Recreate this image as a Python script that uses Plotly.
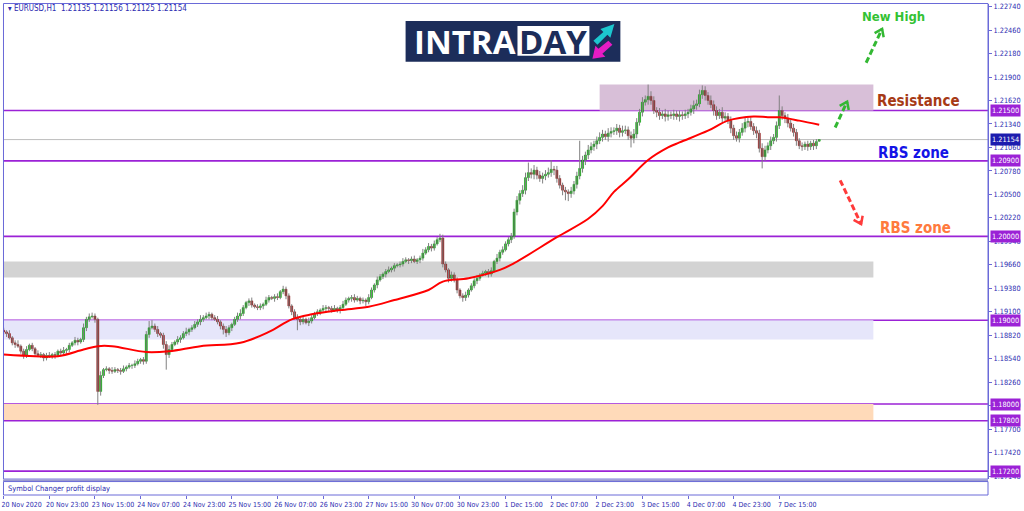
import math
import plotly.graph_objects as go

# ---------------- data ----------------
symbol = "EURUSD,H1"
first_open = 1.1888
# H1 closes, bars 0..285 (bar 286 is the live bar in last_ohlc)
closes = [
    1.1886, 1.1884, 1.1879, 1.1873, 1.1871, 1.1869, 1.1863, 1.1858, 1.1865, 1.1870,
    1.1866, 1.1860, 1.1858, 1.1859, 1.1855, 1.1858, 1.1857, 1.1859, 1.1858, 1.1863,
    1.1861, 1.1864, 1.1865, 1.1870, 1.1873, 1.1876, 1.1874, 1.1877, 1.1891, 1.1901,
    1.1904, 1.1905, 1.1901, 1.1815, 1.1834, 1.1841, 1.1842, 1.1840, 1.1839, 1.1841,
    1.1840, 1.1839, 1.1842, 1.1844, 1.1846, 1.1846, 1.1848, 1.1851, 1.1853, 1.1851,
    1.1883, 1.1891, 1.1893, 1.1889, 1.1884, 1.1882, 1.1871, 1.1859, 1.1865, 1.1871,
    1.1874, 1.1877, 1.1879, 1.1884, 1.1886, 1.1889, 1.1891, 1.1895, 1.1898, 1.1901,
    1.1903, 1.1905, 1.1907, 1.1903, 1.1901, 1.1898, 1.1893, 1.1889, 1.1885, 1.1891,
    1.1895, 1.1901, 1.1905, 1.1908, 1.1915, 1.1921, 1.1923, 1.1918, 1.1916, 1.1915,
    1.1917, 1.1919, 1.1924, 1.1927, 1.1926, 1.1928, 1.1927, 1.1934, 1.1937, 1.1929,
    1.1917, 1.1910, 1.1903, 1.1901, 1.1898, 1.1901, 1.1897, 1.1899, 1.1903, 1.1908,
    1.1910, 1.1912, 1.1914, 1.1915, 1.1914, 1.1912, 1.1914, 1.1912, 1.1915, 1.1919,
    1.1924, 1.1926, 1.1927, 1.1924, 1.1926, 1.1923, 1.1924, 1.1922, 1.1927, 1.1936,
    1.1942, 1.1948, 1.1952, 1.1955, 1.1958, 1.1960, 1.1962, 1.1965, 1.1966, 1.1967,
    1.1970, 1.1972, 1.1971, 1.1973, 1.1970, 1.1972, 1.1974, 1.1980, 1.1984, 1.1988,
    1.1986, 1.1991, 1.1996, 1.1998, 1.1967, 1.1960, 1.1950, 1.1954, 1.1948, 1.1936,
    1.1929, 1.1927, 1.1930, 1.1936, 1.1941, 1.1947, 1.1950, 1.1954, 1.1956, 1.1958,
    1.1955, 1.1959, 1.1970, 1.1974, 1.1981, 1.1984, 1.1991, 1.1996, 1.2000, 1.2029,
    1.2043, 1.2051, 1.2055, 1.2070, 1.2076, 1.2074, 1.2079, 1.2073, 1.2069, 1.2072,
    1.2074, 1.2076, 1.2080, 1.2079, 1.2069, 1.2061, 1.2055, 1.2053, 1.2051, 1.2054,
    1.2062, 1.2072, 1.2081, 1.2091, 1.2097, 1.2103, 1.2107, 1.2110, 1.2114, 1.2118,
    1.2122, 1.2119, 1.2123, 1.2125, 1.2126, 1.2129, 1.2124, 1.2126, 1.2127, 1.2120,
    1.2117, 1.2122, 1.2136, 1.2148, 1.2160, 1.2163, 1.2167, 1.2162, 1.2150, 1.2148,
    1.2144, 1.2146, 1.2143, 1.2145, 1.2144, 1.2146, 1.2143, 1.2145, 1.2144, 1.2146,
    1.2148, 1.2152, 1.2156, 1.2158, 1.2169, 1.2174, 1.2168, 1.2162, 1.2157, 1.2150,
    1.2144, 1.2148, 1.2141, 1.2143, 1.2138, 1.2129, 1.2120, 1.2117, 1.2124, 1.2129,
    1.2136, 1.2137, 1.2131, 1.2126, 1.2123, 1.2105, 1.2095, 1.2103, 1.2108, 1.2114,
    1.2118, 1.2132, 1.2150, 1.2144, 1.2141, 1.2135, 1.2129, 1.2124, 1.2114, 1.2108,
    1.2107, 1.2110, 1.2107, 1.2111, 1.2108, 1.2113,
]
# upper / lower wick lengths in pips, bars 0..285
wick_up_pips = [
    3, 2, 4, 2, 3, 5, 2, 3, 4, 2,   3, 2, 4, 3, 2, 3, 4, 2, 3, 2,
    3, 4, 2, 3, 2, 4, 3, 2, 5, 3,   4, 4, 3, 2, 5, 2, 3, 2, 4, 3,
    2, 3, 4, 2, 3, 2, 4, 3, 2, 3,   4, 8, 7, 3, 4, 2, 3, 4, 5, 3,
    2, 4, 3, 3, 5, 2, 3, 4, 3, 5,   3, 4, 3, 2, 3, 4, 2, 3, 4, 3,
    2, 3, 4, 5, 3, 2, 3, 4, 2, 3,   3, 2, 4, 3, 2, 3, 4, 2, 4, 3,
    3, 2, 3, 4, 2, 3, 2, 4, 3, 2,   3, 2, 4, 3, 2, 3, 4, 2, 3, 4,
    3, 2, 3, 4, 3, 2, 3, 2, 4, 3,   2, 4, 3, 2, 3, 4, 2, 3, 2, 3,
    4, 3, 2, 3, 4, 2, 3, 5, 3, 4,   3, 4, 3, 5, 4, 3, 2, 4, 3, 3,
    2, 3, 4, 2, 3, 3, 4, 2, 3, 2,   3, 4, 2, 5, 3, 4, 3, 3, 4, 4,
    5, 4, 6, 6, 12, 5, 6, 4, 5, 4,  5, 6, 11, 4, 5, 4, 3, 4, 3, 5,
    4, 5, 33, 5, 4, 6, 5, 4, 5, 6,  5, 4, 6, 5, 4, 5, 4, 6, 5, 4,
    5, 6, 5, 4, 6, 5, 14, 6, 5, 4,  5, 4, 6, 5, 4, 5, 4, 5, 4, 5,
    4, 5, 6, 5, 6, 6, 5, 4, 6, 5,   5, 4, 6, 5, 4, 5, 4, 5, 4, 6,
    5, 4, 5, 4, 5, 4, 6, 5, 4, 5,   4, 5, 18, 5, 4, 5, 4, 5, 4, 3,
    4, 3, 4, 3, 4, 3,
]
wick_dn_pips = [
    3, 4, 2, 3, 4, 2, 3, 4, 3, 2,   3, 4, 2, 3, 4, 3, 2, 3, 4, 2,
    3, 2, 4, 3, 2, 3, 4, 2, 3, 4,   3, 2, 4, 16, 5, 3, 2, 4, 3, 2,
    3, 4, 2, 3, 2, 4, 3, 2, 3, 4,   3, 4, 2, 3, 4, 3, 5, 18, 4, 3,
    2, 3, 4, 2, 3, 4, 3, 2, 3, 4,   3, 2, 4, 3, 2, 3, 4, 6, 5, 3,
    4, 2, 3, 4, 3, 2, 4, 3, 2, 3,   3, 4, 2, 3, 2, 4, 3, 2, 3, 4,
    3, 4, 2, 13, 4, 3, 2, 4, 3, 2,  3, 4, 2, 3, 4, 3, 2, 3, 4, 3,
    2, 3, 4, 3, 2, 4, 3, 5, 3, 2,   3, 4, 2, 3, 4, 2, 3, 4, 2, 3,
    3, 2, 4, 3, 2, 3, 4, 3, 2, 3,   4, 3, 2, 3, 4, 3, 5, 4, 3, 4,
    3, 5, 4, 3, 2, 3, 4, 3, 2, 3,   4, 3, 2, 3, 4, 3, 2, 3, 4, 3,
    4, 5, 4, 5, 4, 5, 6, 5, 4, 6,   5, 4, 5, 6, 5, 4, 6, 10, 9, 5,
    4, 5, 4, 5, 6, 5, 4, 5, 6, 4,   5, 4, 6, 5, 4, 5, 6, 5, 4, 5,
    11, 6, 5, 4, 5, 4, 6, 5, 4, 6,  5, 4, 6, 5, 4, 5, 4, 6, 5, 4,
    5, 4, 6, 5, 4, 5, 6, 5, 4, 6,   5, 4, 6, 5, 4, 6, 5, 4, 5, 4,
    5, 6, 4, 5, 6, 5, 14, 5, 4, 5,  4, 5, 4, 5, 6, 5, 4, 5, 6, 4,
    5, 4, 5, 4, 5, 4,
]
last_ohlc = [1.21135, 1.21156, 1.21125, 1.21154]

# moving average (red line), sampled at bar indices
ma_bars = [0, 11, 19, 28, 33, 38, 50, 58, 69, 83, 93, 101, 108, 118, 128, 137, 149, 154,
           163, 174, 179, 194, 205, 210, 214, 219, 226, 233, 237, 247, 254, 263, 268, 272, 279, 286]
ma_vals = [1.1859, 1.1857, 1.1857, 1.1865, 1.1869, 1.1869, 1.1862, 1.1863, 1.1869, 1.1873,
           1.1886, 1.1901, 1.1907, 1.1912, 1.1916, 1.1924, 1.1936, 1.1946, 1.1950, 1.1960,
           1.1968, 1.1999, 1.2021, 1.2036, 1.2053, 1.2068, 1.2091, 1.2106, 1.2112, 1.2126,
           1.2138, 1.2143, 1.2142, 1.2142, 1.2138, 1.2133]

# x-axis labels (every 16 H1 bars)
tick_bars = [0, 16, 32, 48, 64, 80, 96, 112, 128, 144, 160, 176, 192, 208, 224, 240, 256, 272]
tick_labels = ["20 Nov 2020", "20 Nov 23:00", "23 Nov 15:00", "24 Nov 07:00", "24 Nov 23:00",
               "25 Nov 15:00", "26 Nov 07:00", "26 Nov 23:00", "27 Nov 15:00", "30 Nov 07:00",
               "30 Nov 23:00", "1 Dec 15:00", "2 Dec 07:00", "2 Dec 23:00", "3 Dec 15:00",
               "4 Dec 07:00", "4 Dec 23:00", "7 Dec 15:00"]
price_ticks = [1.2274, 1.2246, 1.2218, 1.2190, 1.2162, 1.2134, 1.2106, 1.2078, 1.2050, 1.2022,
               1.1994, 1.1966, 1.1938, 1.1910, 1.1882, 1.1854, 1.1826, 1.1798, 1.1770, 1.1742,
               1.1714]

# horizontal levels (purple lines)
level_prices = [1.2150, 1.2090, 1.2000, 1.1900, 1.1800, 1.1780, 1.1720]
# rectangles (zones)
zone_bottom = [1.2150, 1.1951, 1.1877, 1.1781]
zone_top = [1.2181, 1.1970, 1.1900, 1.1800]
zone_first_bar = [209, None, None, None]
zone_last_bar = [305, 305, 305, 305]
zone_colors = ["#D8BFD8", "#D3D3D3", "#E6E6FA", "#FFDAB9"]

# ---------------- styling ----------------
NARROW = "Liberation Sans Narrow, DejaVu Sans Condensed, Arial Narrow, sans-serif"
AX = "#6A6AD8"
TXT = "#2B2BB0"
PURPLE = "#9B22D6"
UP = "#00A000"
DN = "#8B1010"
WICK = "#808080"
X_RANGE = [-0.25, 345.2]
Y_RANGE = [1.17105, 1.22771]

W, H = 1024, 511
ML, MR, MT, MB = 2, 36, 3, 15
PW, PH = W - ML - MR, H - MT - MB


def pxx(x):
    return (x - ML) / PW


def pxy(y):
    return (H - MB - y) / PH


# ---------------- build OHLC ----------------
opens = [first_open] + closes[:-1]
highs = [max(o, c) + u * 0.0001 for o, c, u in zip(opens, closes, wick_up_pips)]
lows = [min(o, c) - d * 0.0001 for o, c, d in zip(opens, closes, wick_dn_pips)]
opens.append(last_ohlc[0]); highs.append(last_ohlc[1]); lows.append(last_ohlc[2]); closes = closes + [last_ohlc[3]]
bars = list(range(len(closes)))

fig = go.Figure()

wx, wy = [], []
for i in bars:
    wx += [i, i, None]
    wy += [lows[i], highs[i], None]
fig.add_trace(go.Scatter(x=wx, y=wy, mode="lines", line=dict(color=WICK, width=1),
                         hoverinfo="skip", xaxis="x", yaxis="y"))

for is_up, col in [(True, UP), (False, DN)]:
    xs, base, hgt = [], [], []
    for i in bars:
        o, c = opens[i], closes[i]
        if (c >= o) == is_up:
            xs.append(i)
            base.append(min(o, c))
            hgt.append(max(abs(c - o), 0.00002))
    fig.add_trace(go.Bar(x=xs, y=hgt, base=base, width=0.72,
                         marker=dict(color=col, line=dict(color=col, width=0.5)),
                         xaxis="x", yaxis="y", hoverinfo="skip"))

fig.add_trace(go.Scatter(x=ma_bars, y=ma_vals, mode="lines",
                         line=dict(color="#FF0000", width=2, shape="spline", smoothing=1.0),
                         xaxis="x", yaxis="y", hoverinfo="skip"))

# ---------------- shapes ----------------
shapes = []
for lo, hi, b0, b1, col in zip(zone_bottom, zone_top, zone_first_bar, zone_last_bar, zone_colors):
    shapes.append(dict(type="rect", xref="x", yref="y",
                       x0=X_RANGE[0] if b0 is None else b0, x1=b1, y0=lo, y1=hi,
                       fillcolor=col, line=dict(width=0), layer="below"))
# last price line
shapes.append(dict(type="line", xref="paper", yref="y", x0=0, x1=1, y0=closes[-1], y1=closes[-1],
                   line=dict(color="#BDBDBD", width=1), layer="below"))
for lv in level_prices:
    shapes.append(dict(type="line", xref="paper", yref="y", x0=0, x1=1, y0=lv, y1=lv,
                       line=dict(color=PURPLE, width=1.6), layer="below"))

# frames
shapes.append(dict(type="rect", xref="paper", yref="paper", x0=pxx(2.5), x1=pxx(988), y0=pxy(480), y1=pxy(2.5),
                   line=dict(color=AX, width=1), fillcolor="rgba(0,0,0,0)"))
shapes.append(dict(type="rect", xref="paper", yref="paper", x0=pxx(2), x1=pxx(988), y0=pxy(482.5), y1=pxy(480.5),
                   line=dict(width=0), fillcolor="#9A9ACF"))
shapes.append(dict(type="rect", xref="paper", yref="paper", x0=pxx(2.5), x1=pxx(988), y0=pxy(496), y1=pxy(482.5),
                   line=dict(color=AX, width=1), fillcolor="rgba(0,0,0,0)"))


def path_from(points, close=True):
    s = "M " + " L ".join(f"{pxx(x):.5f},{pxy(y):.5f}" for x, y in points)
    return s + (" Z" if close else "")


# logo
shapes.append(dict(type="rect", xref="paper", yref="paper", x0=pxx(405), x1=pxx(620), y0=pxy(61), y1=pxy(20),
                   fillcolor="#1C2D5A", line=dict(width=0)))
shapes.append(dict(type="rect", xref="paper", yref="paper", x0=pxx(517), x1=pxx(589), y0=pxy(55), y1=pxy(25),
                   fillcolor="white", line=dict(width=0)))
shapes.append(dict(type="path", xref="paper", yref="paper",
                   path=path_from([(593, 40), (603, 31), (600, 28), (614, 23), (610, 37), (607, 34), (597, 44)]),
                   fillcolor="#1CC7CF", line=dict(width=0)))
shapes.append(dict(type="path", xref="paper", yref="paper",
                   path=path_from([(612, 44), (602, 53), (605, 56), (592, 58), (595, 45), (598, 48), (608, 40)]),
                   fillcolor="#E61CC4", line=dict(width=0)))


def dashed_arrow(x0, y0, x1, y1, color):
    shapes.append(dict(type="line", xref="paper", yref="paper", x0=pxx(x0), y0=pxy(y0), x1=pxx(x1), y1=pxy(y1),
                       line=dict(color=color, width=3, dash="6px,3px")))
    d = math.hypot(x1 - x0, y1 - y0)
    ux, uy = (x1 - x0) / d, (y1 - y0) / d
    bx, by = x1 - ux * 7, y1 - uy * 7
    nx, ny = -uy, ux
    pts = [(bx + nx * 5, by + ny * 5), (x1, y1), (bx - nx * 5, by - ny * 5)]
    shapes.append(dict(type="path", xref="paper", yref="paper", path=path_from(pts, close=False),
                       line=dict(color=color, width=2.5)))


dashed_arrow(866, 62, 882, 28, "#33B833")
dashed_arrow(835, 127, 847, 101, "#33B833")
dashed_arrow(840, 180, 861, 224, "#FF3B3B")

# ---------------- annotations ----------------
ann = []
ann.append(dict(xref="paper", yref="paper", x=pxx(5), y=pxy(8), xanchor="left", yanchor="middle",
                text=f"▾ {symbol}  " + " ".join(f"{v:.5f}" for v in last_ohlc),
                showarrow=False, font=dict(family=NARROW, size=8, color=TXT)))
ann.append(dict(xref="paper", yref="paper", x=pxx(5), y=pxy(489), xanchor="left", yanchor="middle",
                text="Symbol Changer profit display", showarrow=False,
                font=dict(family=NARROW, size=7.5, color=TXT)))
# logo text
ann.append(dict(xref="paper", yref="paper", x=pxx(464), y=pxy(41), xanchor="center", yanchor="middle",
                text="<b>INTRA</b>", showarrow=False, font=dict(family="Open Sans, sans-serif", size=33, color="white")))
ann.append(dict(xref="paper", yref="paper", x=pxx(553), y=pxy(41), xanchor="center", yanchor="middle",
                text="<b>DAY</b>", showarrow=False, font=dict(family="Open Sans, sans-serif", size=33, color="#1C2D5A")))
# chart notes
for txt, x, y, col, sz in [("New High", 893, 16, "#33C233", 13), ("Resistance", 918, 100, "#A63A16", 15),
                           ("RBS zone", 913, 153, "#1414E6", 15), ("RBS zone", 915, 228, "#FF7A3D", 15)]:
    ann.append(dict(xref="paper", yref="paper", x=pxx(x), y=pxy(y), xanchor="center", yanchor="middle",
                    text=f"<b>{txt}</b>", showarrow=False,
                    font=dict(family=NARROW, size=sz, color=col)))
# level price boxes
for lv in level_prices:
    ann.append(dict(xref="paper", yref="y", x=1, y=lv, xanchor="left", yanchor="middle", xshift=2,
                    text=f"{lv:.5f}", showarrow=False, bgcolor=PURPLE, borderpad=1,
                    font=dict(family=NARROW, size=7.3, color="white")))
ann.append(dict(xref="paper", yref="y", x=1, y=closes[-1], xanchor="left", yanchor="middle", xshift=2,
                text=f"{closes[-1]:.5f}", showarrow=False, bgcolor="#1C1CAE", borderpad=1,
                font=dict(family=NARROW, size=7.3, color="white")))

fig.update_layout(
    width=W, height=H, margin=dict(l=ML, r=MR, t=MT, b=MB, pad=0),
    paper_bgcolor="white", plot_bgcolor="white", showlegend=False,
    barmode="overlay", bargap=0, shapes=shapes, annotations=ann,
    xaxis=dict(domain=[0, 1], anchor="free", position=0, side="bottom", range=X_RANGE,
               tickmode="array", tickvals=tick_bars, ticktext=tick_labels, ticks="outside",
               ticklen=3, tickcolor=AX, tickangle=0, ticklabelshift=18,
               tickfont=dict(family=NARROW, size=7, color=TXT),
               showgrid=False, zeroline=False, showline=False),
    yaxis=dict(domain=[(H - MB - 480) / PH, 1], anchor="x", side="right", range=Y_RANGE,
               tickmode="array", tickvals=price_ticks, tickformat=".5f", ticks="outside", ticklen=3,
               tickcolor=AX, tickfont=dict(family=NARROW, size=7.3, color=TXT),
               showgrid=False, zeroline=False, showline=True, linecolor=AX, linewidth=1),
)

fig.write_html("out.html", config={"displayModeBar": False, "staticPlot": True},
               post_script="document.body.style.margin='0';document.body.style.padding='0';"
                           "document.body.style.overflow='hidden';")
